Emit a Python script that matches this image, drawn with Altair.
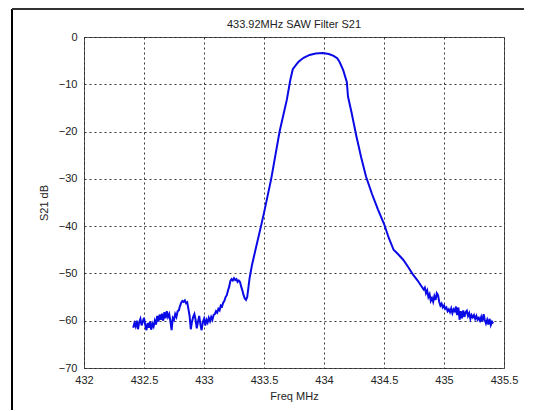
import altair as alt
import pandas as pd

freq_low = [432.41, 432.42, 432.43, 432.44, 432.45, 432.46, 432.47, 432.48, 432.49, 432.50,
            432.51, 432.52, 432.53, 432.54, 432.55, 432.56, 432.57, 432.58, 432.59, 432.60,
            432.61, 432.62, 432.63, 432.64, 432.65, 432.66, 432.67, 432.68, 432.69, 432.70,
            432.71, 432.72, 432.73, 432.74, 432.75, 432.76, 432.77, 432.78, 432.79, 432.80,
            432.81, 432.82, 432.83, 432.84, 432.85, 432.86, 432.87, 432.88, 432.89, 432.90,
            432.91, 432.92, 432.93, 432.94, 432.95, 432.96, 432.97, 432.98, 432.99, 433.00,
            433.01, 433.02, 433.03, 433.04, 433.05, 433.06, 433.07, 433.08, 433.09, 433.10,
            433.11, 433.12, 433.13, 433.14, 433.15, 433.16, 433.17, 433.18, 433.19, 433.20,
            433.21, 433.22, 433.23, 433.24, 433.25, 433.26, 433.27, 433.28, 433.29, 433.30,
            433.31, 433.32, 433.33, 433.34, 433.35, 433.36, 433.37, 433.38, 433.39, 433.40]
s21_low = [-61.5, -60.5, -61.2, -60.0, -61.8, -60.3, -59.6, -61.0, -60.2, -59.4,
           -60.8, -62.0, -60.5, -61.5, -60.2, -61.9, -60.6, -61.2, -60.0, -60.8,
           -59.0, -60.2, -58.7, -59.8, -58.5, -60.0, -58.2, -59.5, -58.0, -59.2,
           -58.6, -60.1, -62.0, -59.4, -59.8, -58.6, -59.2, -58.0, -57.8, -56.9,
           -56.2, -55.8, -56.0, -55.7, -56.3, -56.1, -57.5, -59.0, -61.8, -60.2,
           -59.2, -58.6, -59.8, -61.6, -60.2, -59.0, -60.8, -62.0, -60.3, -59.6,
           -61.0, -59.8, -60.4, -59.4, -60.1, -59.2, -59.8, -58.8, -58.6, -58.0,
           -58.3, -57.5, -57.8, -56.8, -57.0, -56.2, -55.8, -55.0, -54.6, -53.6,
           -52.8, -51.6, -51.2, -51.5, -51.0, -51.4, -51.2, -51.8, -51.5, -51.8,
           -52.8, -53.6, -54.6, -55.3, -55.6, -55.0, -53.0, -51.0, -49.6, -48.2]

freq_mid = [433.43, 433.475, 433.50, 433.56, 433.63, 433.69, 433.72, 433.74, 433.77, 433.79,
            433.83, 433.88, 433.93, 433.99, 434.04, 434.08, 434.11, 434.13, 434.16, 434.19,
            434.20, 434.23, 434.27, 434.31, 434.35, 434.40, 434.45, 434.50, 434.54, 434.58,
            434.62, 434.66, 434.70, 434.74, 434.78]
s21_mid = [-44.9, -40.0, -37.2, -30.0, -20.0, -13.3, -9.0, -6.8, -5.8, -5.2,
           -4.4, -3.8, -3.5, -3.4, -3.6, -4.0, -4.5, -5.3, -7.0, -9.5,
           -12.6, -16.0, -21.0, -25.5, -29.5, -33.2, -36.5, -39.5, -42.5, -45.0,
           -46.0, -47.1, -48.6, -50.2, -51.5]

freq_high = [434.83, 434.84, 434.85, 434.86, 434.87, 434.88, 434.89, 434.90, 434.91, 434.92,
             434.93, 434.94, 434.95, 434.96, 434.97, 434.98, 434.99, 435.00, 435.01, 435.02,
             435.03, 435.04, 435.05, 435.06, 435.07, 435.08, 435.09, 435.10, 435.11, 435.12,
             435.13, 435.14, 435.15, 435.16, 435.17, 435.18, 435.19, 435.20, 435.21, 435.22,
             435.23, 435.24, 435.25, 435.26, 435.27, 435.28, 435.29, 435.30, 435.31, 435.32,
             435.33, 435.34, 435.35, 435.36, 435.37, 435.38, 435.39, 435.40, 435.41]
s21_high = [-53.4, -53.0, -54.2, -53.6, -55.0, -54.4, -55.8, -55.2, -56.0, -54.8,
            -55.6, -54.2, -54.6, -56.0, -56.8, -56.4, -57.2, -56.8, -57.5, -57.2,
            -58.0, -57.6, -58.2, -57.4, -58.4, -57.6, -58.0, -57.0, -58.8, -57.2,
            -59.8, -58.0, -59.5, -57.8, -59.2, -58.2, -57.9, -59.0, -58.4, -59.6,
            -58.8, -59.3, -58.8, -59.6, -59.0, -59.8, -59.4, -60.0, -59.2, -60.2,
            -58.6, -59.8, -60.6, -59.8, -60.8, -59.6, -60.9, -60.2, -60.6]

x_ticks = [432, 432.5, 433, 433.5, 434, 434.5, 435, 435.5]
y_ticks = [0, -10, -20, -30, -40, -50, -60, -70]

df = pd.DataFrame({
    "freq": freq_low + freq_mid + freq_high,
    "s21": s21_low + s21_mid + s21_high,
})

FONT = "Liberation Sans"

line = alt.Chart(df).mark_line(color="#0a0ae6", strokeWidth=2, clip=True).encode(
    x=alt.X("freq:Q", title="Freq MHz",
            scale=alt.Scale(domain=[432, 435.5], nice=False, zero=False),
            axis=alt.Axis(values=x_ticks, format="~f", labelFlush=False, tickSize=0,
                          labelPadding=6, titlePadding=5, grid=True)),
    y=alt.Y("s21:Q", title="S21 dB",
            scale=alt.Scale(domain=[-70, 0], nice=False),
            axis=alt.Axis(values=y_ticks, format="d", tickSize=0, labelPadding=7,
                          titlePadding=9, grid=True)),
)

frame = alt.Chart(df).mark_rule(color="#000000", strokeWidth=2, clip=False).encode(
    x=alt.value(-72), y=alt.value(-28), y2=alt.value(380)
)
frame_top = alt.Chart(df).mark_rule(color="#333333", strokeWidth=1.5, clip=False).encode(
    x=alt.value(-72), x2=alt.value(440), y=alt.value(-28)
)

chart = alt.layer(line, frame, frame_top).properties(
    width=420, height=331,
    title=alt.TitleParams("433.92MHz SAW Filter S21", fontSize=11, fontWeight="normal",
                          font=FONT, color="#222222", offset=0, dy=22, anchor="middle"),
    autosize=alt.AutoSizeParams(type="none"),
    padding={"left": 76, "top": 29, "right": 20, "bottom": 42},
).configure_view(
    stroke="#555555", strokeWidth=1
).configure_axis(
    labelFont=FONT, titleFont=FONT, labelFontSize=11, titleFontSize=11,
    titleFontWeight="normal", labelColor="#222222", titleColor="#222222",
    gridColor="#222222", gridDash=[2, 3], gridOpacity=0.9, gridWidth=1,
    domain=False,
)

chart.save("out.html", embed_options={"renderer": "svg", "actions": False})
